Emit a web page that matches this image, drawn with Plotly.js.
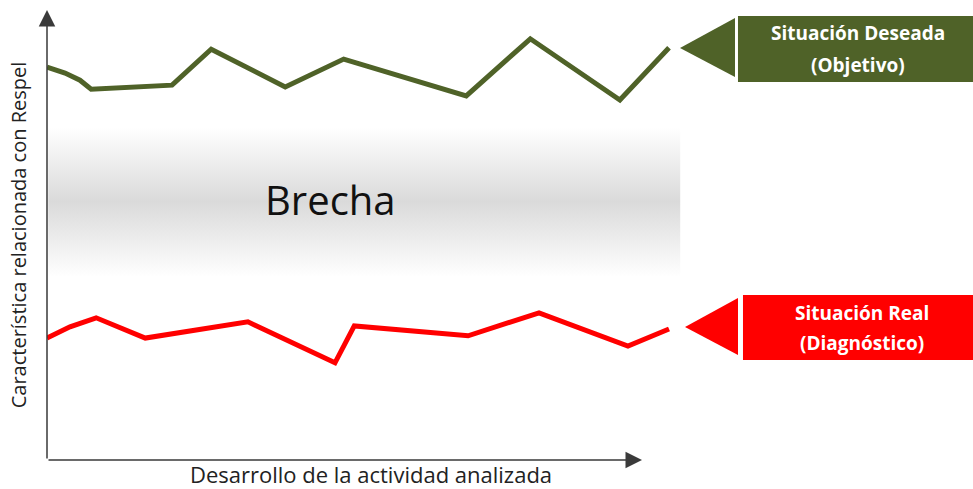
<!DOCTYPE html>
<html>
<head>
<meta charset="utf-8">
<script src="https://cdn.plot.ly/plotly-3.0.1.min.js"></script>
<style>html,body{margin:0;padding:0;background:#fff;}#chart{width:973px;height:489px;}</style>
</head>
<body>
<div id="chart"></div>
<script>
// Progress of the analysed activity (0-100) and level of the characteristic (0-100)
const desiredX = [0, 2.9, 5.3, 7.1, 20.1, 26.4, 38.3, 47.7, 67.4, 77.7, 92.1, 100];
const desiredY = [87.3, 86.0, 84.4, 82.4, 83.3, 91.3, 82.9, 89.1, 80.9, 93.6, 80.0, 91.6];
const realX = [0, 3.7, 7.9, 15.8, 32.3, 46.3, 49.4, 67.7, 79.1, 93.4, 100];
const realY = [27.1, 29.6, 31.6, 27.1, 30.7, 21.6, 29.8, 27.6, 32.7, 25.3, 29.1];
const gapX = [0.2, 101.8];
const gapTop = 74.0;
const gapBottom = 40.7;
const gapLabel = "Brecha";
const desiredLabel = ["Situación Deseada", "(Objetivo)"];
const realLabel = ["Situación Real", "(Diagnóstico)"];
const xTitle = "Desarrollo de la actividad analizada";
const yTitle = "Característica relacionada con Respel";

const GREEN = "#4f6228";
const RED = "#ff0000";
const FONT = "Open Sans, Liberation Sans, sans-serif";

const traces = [
  {
    x: [gapX[0], gapX[1], gapX[1], gapX[0], gapX[0]],
    y: [gapBottom, gapBottom, gapTop, gapTop, gapBottom],
    type: "scatter", mode: "none", fill: "toself",
    fillgradient: {type: "vertical", colorscale: [[0, "#ffffff"], [0.5, "#dadada"], [1, "#ffffff"]]},
    hoverinfo: "skip", showlegend: false
  },
  {
    x: desiredX, y: desiredY, type: "scatter", mode: "lines",
    line: {color: GREEN, width: 5}, hoverinfo: "skip", showlegend: false
  },
  {
    x: realX, y: realY, type: "scatter", mode: "lines",
    line: {color: RED, width: 5}, hoverinfo: "skip", showlegend: false
  }
];

// paper coordinates: plot area spans px 47..973 horizontally, 10..460 vertically
const shapes = [
  {type: "rect", xref: "paper", yref: "paper", x0: 0.7462, x1: 1.02, y0: 0.84, y1: 0.9867,
   fillcolor: GREEN, line: {width: 0}},
  {type: "path", xref: "paper", yref: "paper",
   path: "M 0.6836 0.9156 L 0.7430 0.9822 L 0.7430 0.8511 Z", fillcolor: GREEN, line: {width: 0}},
  {type: "rect", xref: "paper", yref: "paper", x0: 0.7516, x1: 1.02, y0: 0.2222, y1: 0.3667,
   fillcolor: RED, line: {width: 0}},
  {type: "path", xref: "paper", yref: "paper",
   path: "M 0.6890 0.2956 L 0.7462 0.36 L 0.7462 0.2333 Z", fillcolor: RED, line: {width: 0}}
];

const boxFont = {family: FONT, size: 19, color: "#ffffff", weight: 700};
const annotations = [
  {x: 95.66, y: 0, ax: 0, ay: 0, axref: "x", ayref: "y", xref: "x", yref: "y", text: "",
   showarrow: true, arrowhead: 2, arrowsize: 2.2, arrowwidth: 1.5, arrowcolor: "#3a3a3a"},
  {x: 0, y: 100, ax: 0, ay: 0, axref: "x", ayref: "y", xref: "x", yref: "y", text: "",
   showarrow: true, arrowhead: 2, arrowsize: 2.2, arrowwidth: 1.5, arrowcolor: "#3a3a3a"},
  {x: 45.5, y: 57.8, xref: "x", yref: "y", text: gapLabel, showarrow: false,
   xanchor: "center", yanchor: "middle",
   font: {family: FONT, size: 40, color: "#111111"}},
  {x: 0.8758, y: 0.9489, xref: "paper", yref: "paper", text: desiredLabel[0], showarrow: false,
   xanchor: "center", yanchor: "middle", font: boxFont},
  {x: 0.8758, y: 0.8778, xref: "paper", yref: "paper", text: desiredLabel[1], showarrow: false,
   xanchor: "center", yanchor: "middle", font: boxFont},
  {x: 0.8801, y: 0.3267, xref: "paper", yref: "paper", text: realLabel[0], showarrow: false,
   xanchor: "center", yanchor: "middle", font: boxFont},
  {x: 0.8801, y: 0.26, xref: "paper", yref: "paper", text: realLabel[1], showarrow: false,
   xanchor: "center", yanchor: "middle", font: boxFont}
];

const layout = {
  width: 973, height: 489,
  margin: {l: 47, r: 0, t: 10, b: 29},
  paper_bgcolor: "#ffffff", plot_bgcolor: "#ffffff",
  showlegend: false,
  xaxis: {
    domain: [0, 0.6998], range: [0, 104.18],
    showgrid: false, zeroline: false, showline: false, showticklabels: false, ticks: "",
    automargin: false,
    title: {text: xTitle, standoff: 9, font: {family: FONT, size: 22, color: "#222222"}}
  },
  yaxis: {
    range: [0, 100],
    showgrid: false, zeroline: false, showline: false, showticklabels: false, ticks: "",
    automargin: false,
    title: {text: yTitle, standoff: 14, font: {family: FONT, size: 20, color: "#222222"}}
  },
  shapes: shapes,
  annotations: annotations
};

Plotly.newPlot("chart", traces, layout, {displayModeBar: false, staticPlot: true});
</script>
</body>
</html>
